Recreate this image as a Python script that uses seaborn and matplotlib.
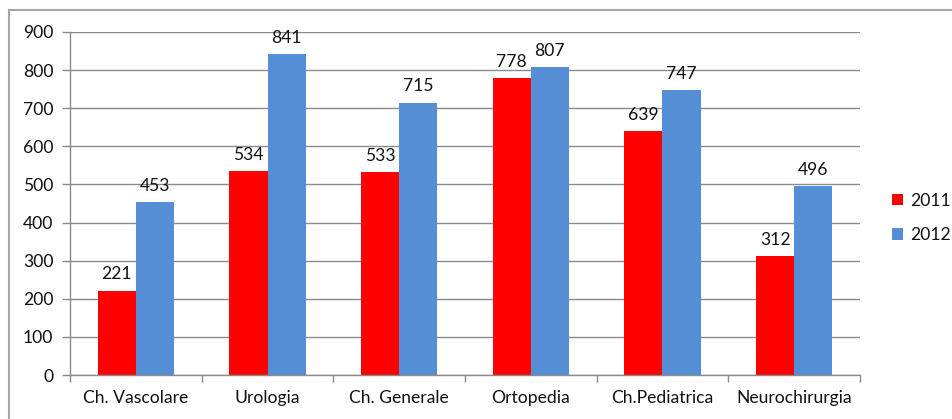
import matplotlib
matplotlib.use("Agg")
import matplotlib.pyplot as plt
from matplotlib.patches import Rectangle, Patch
import seaborn as sns
import pandas as pd

categories = ["Ch. Vascolare", "Urologia", "Ch. Generale", "Ortopedia", "Ch.Pediatrica", "Neurochirurgia"]
years = ["2011", "2012"]
values_2011 = [221, 534, 533, 778, 639, 312]
values_2012 = [453, 841, 715, 807, 747, 496]
y_ticks = [0, 100, 200, 300, 400, 500, 600, 700, 800, 900]

colors = {"2011": "#FF0000", "2012": "#558ED5"}
grid_col = "#8a8a8a"
fs = 12.6

df = pd.DataFrame({
    "Reparto": categories * 2,
    "Anno": [years[0]] * len(categories) + [years[1]] * len(categories),
    "Valore": values_2011 + values_2012,
})

sns.set_theme(style="white")
plt.rcParams["font.family"] = ["Lato", "DejaVu Sans"]
plt.rcParams["text.color"] = "#111111"

fig = plt.figure(figsize=(9.53, 4.19), dpi=100)
ax = fig.add_axes([70 / 953, 44 / 419, 790 / 953, 343 / 419])

sns.barplot(data=df, x="Reparto", y="Valore", hue="Anno", palette=colors,
            order=categories, hue_order=years, width=0.58, saturation=1,
            edgecolor="none", linewidth=0, ax=ax, legend=False)

# value labels above each bar
for container in ax.containers:
    ax.bar_label(container, fmt="%d", padding=6, fontsize=fs, color="#111111")

ax.set_ylim(0, 900)
ax.set_xlim(-0.5, len(categories) - 0.5)
ax.set_yticks(y_ticks)
ax.yaxis.grid(True, color=grid_col, linewidth=1.0)
ax.set_axisbelow(True)
ax.set_xlabel("")
ax.set_ylabel("")

for side in ["top", "right"]:
    ax.spines[side].set_visible(False)
for side in ["left", "bottom"]:
    ax.spines[side].set_color(grid_col)
    ax.spines[side].set_linewidth(1.0)

ax.tick_params(axis="y", which="major", length=6, width=1, color=grid_col,
               labelsize=fs, labelcolor="#111111", pad=6, left=True)
ax.tick_params(axis="x", which="major", length=0, labelsize=fs,
               labelcolor="#111111", pad=11)
ax.set_xticks([i - 0.5 for i in range(len(categories) + 1)], minor=True)
ax.tick_params(axis="x", which="minor", length=5, width=1, color=grid_col, bottom=True)

# legend
handles = [Patch(facecolor=colors[y], edgecolor="none") for y in years]
fig.legend(handles, years, loc="center left", bbox_to_anchor=(889 / 953, 1 - 218 / 419),
           frameon=False, fontsize=fs, handlelength=0.62, handleheight=0.62,
           handletextpad=0.4, labelspacing=1.05, borderaxespad=0, borderpad=0.2)

# outer chart frame
fig.patches.append(Rectangle((9 / 953, -0.05), 1.1, 1 - 10 / 419 + 0.05,
                             transform=fig.transFigure, fill=False,
                             edgecolor="#a6a6a6", linewidth=1.5))

fig.savefig("out.png", dpi=100)
